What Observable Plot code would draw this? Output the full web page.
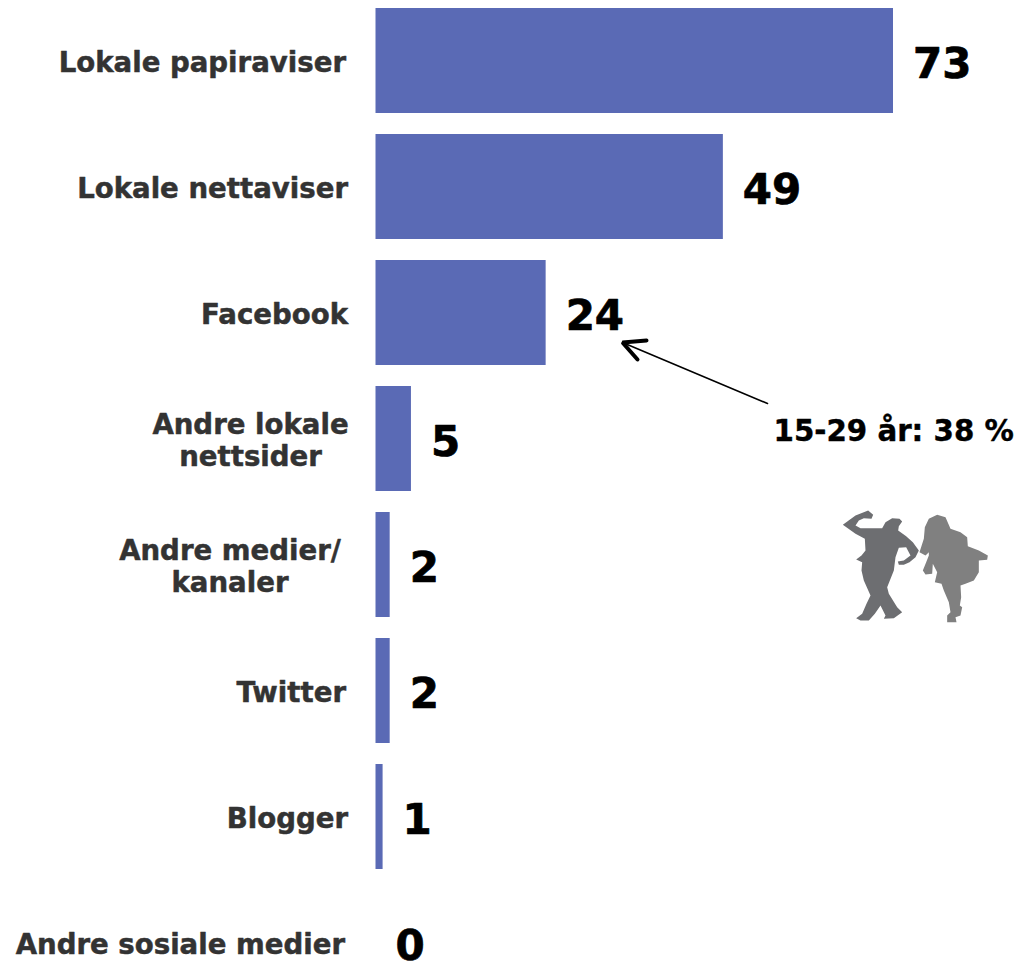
<!DOCTYPE html>
<html>
<head>
<meta charset="utf-8">
<script src="https://cdn.jsdelivr.net/npm/d3@7"></script>
<script src="https://cdn.jsdelivr.net/npm/@observablehq/plot@0.6"></script>
<style>html,body{margin:0;padding:0;background:#fff}svg{display:block}</style>
</head>
<body>
<div id="chart"></div>
<script>
const categories = ["Lokale papiraviser","Lokale nettaviser","Facebook","Andre lokale nettsider","Andre medier/ kanaler","Twitter","Blogger","Andre sosiale medier"];
const axisLabels = ["Lokale papiraviser","Lokale nettaviser","Facebook","Andre lokale\nnettsider","Andre medier/\nkanaler","Twitter","Blogger","Andre sosiale medier"];
const values = [73,49,24,5,2,2,1,0];
const annotation = "15-29 år: 38 %";
const arrowX = [767,622];
const arrowY = [403,342];
const headX = [646,622,637];
const headY = [340,342,359];
const manX = [98,113,108,85,70,60,75,118,140,150,170,192,200,190,188,212,232,250,240,222,205,190,187,205,225,212,190,180,175,155,160,185,200,175,145,150,135,118,100,75,62,80,93,105,85,78,80,62,78,90,88,60,22,60];
const manY = [15,28,40,38,45,60,68,68,68,50,38,40,48,62,75,92,110,135,155,170,178,178,168,165,150,125,127,155,195,245,265,305,320,338,340,330,300,325,345,345,338,325,295,270,225,195,170,162,150,135,100,85,58,30];
const womanX = [40,65,90,105,135,155,157,190,217,215,190,190,175,150,135,137,133,140,135,120,123,95,95,105,100,85,78,58,65,52,50,30,22,32,40,40,30,12,25,28];
const womanY = [40,28,35,70,80,95,122,135,150,163,165,200,225,235,240,275,300,305,330,335,350,350,330,320,290,255,235,230,200,175,205,207,195,170,150,140,150,140,100,65];

const rows = categories.map((c,i)=>({c,label:axisLabels[i],v:values[i],wrapped:axisLabels[i].includes("\n")}));
const font = "'DejaVu Sans', sans-serif";
const bandHalf = 52.5; // Plot shifts band-scale marks by half a bandwidth
const lit = arr=>({value:arr,scale:null});
const shape = (xs,ys,ox,oy,fill)=>Plot.line(xs,{x:lit(xs.map(d=>d/3+ox)),y:lit(ys.map(d=>d/3+oy)),dy:-bandHalf,curve:"linear-closed",fill,stroke:"none"});

const labelDx = {"Lokale papiraviser":-30,"Lokale nettaviser":-28,"Facebook":-28,"Twitter":-30,"Blogger":-28,"Andre sosiale medier":-31};
const centerDx = {"Andre lokale nettsider":-125.5,"Andre medier/ kanaler":-146};
const labelStyle = {fontSize:27.6,fontWeight:"bold",fill:"#333",stroke:"#333",strokeWidth:0.5,lineHeight:1.155,dy:0.5};

const plot = Plot.plot({
  width:1015,height:961,
  marginTop:0,marginBottom:0,marginLeft:0,marginRight:0,
  x:{domain:[0,73],range:[375.5,893],axis:null},
  y:{domain:categories,range:[-3.6,1006],paddingInner:0.168,paddingOuter:0.084,align:0.5,axis:null},
  style:{background:"#fff",fontFamily:font,overflow:"hidden"},
  marks:[
    Plot.barX(rows,{y:"c",x:"v",fill:"#5a6ab5"}),
    ...rows.filter(d=>!d.wrapped).map(d=>Plot.text([d],{y:"c",x:()=>0,text:"label",textAnchor:"end",dx:labelDx[d.c],...labelStyle})),
    ...rows.filter(d=>d.wrapped).map(d=>Plot.text([d],{y:"c",x:()=>0,text:"label",textAnchor:"middle",dx:centerDx[d.c],...labelStyle})),
    Plot.text(rows,{y:"c",x:"v",text:d=>String(d.v),textAnchor:"start",dx:19.5,dy:3.5,fontSize:42,fontWeight:"bold",fill:"#000",stroke:"#000",strokeWidth:0.7}),
    Plot.arrow([0],{x1:lit([arrowX[0]]),y1:lit([arrowY[0]]),x2:lit([arrowX[1]]),y2:lit([arrowY[1]]),dy:-bandHalf,stroke:"#000",strokeWidth:1.6,headLength:0}),
    Plot.line(headX,{x:lit(headX),y:lit(headY),dy:-bandHalf,stroke:"#000",strokeWidth:4,strokeLinecap:"round",strokeLinejoin:"miter"}),
    Plot.text([annotation],{x:lit([773]),y:lit([431]),dy:-bandHalf,text:d=>d,textAnchor:"start",fontSize:29.3,fontWeight:"bold",fill:"#000",stroke:"#000",strokeWidth:0.4}),
    shape(manX,manY,835,505,"#6d6e71"),
    shape(womanX,womanY,915,505,"#808080")
  ]
});
document.getElementById("chart").append(plot);
</script>
</body>
</html>
